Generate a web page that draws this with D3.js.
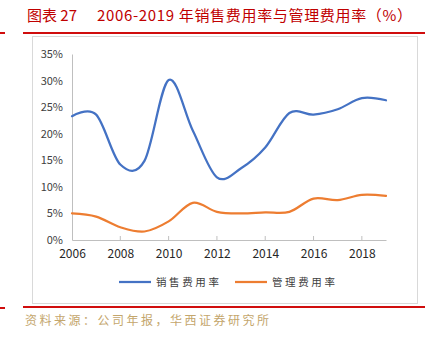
<!DOCTYPE html>
<html>
<head>
<meta charset="utf-8">
<script src="https://cdn.jsdelivr.net/npm/d3@7"></script>
<style>
  html, body { margin: 0; padding: 0; background: #fff; }
  svg { display: block; }
  text { font-family: "Noto Sans CJK SC", "DejaVu Sans", sans-serif; }
</style>
</head>
<body>
<div id="chart"></div>
<script>
//Chart data
var years = [2006, 2007, 2008, 2009, 2010, 2011, 2012, 2013, 2014, 2015, 2016, 2017, 2018, 2019];
var salesRate = [23.3, 23.6, 14.2, 14.9, 30.1, 20.6, 11.8, 13.5, 17.4, 23.9, 23.6, 24.6, 26.7, 26.3];
var adminRate = [5.0, 4.4, 2.4, 1.6, 3.5, 7.0, 5.3, 5.0, 5.2, 5.3, 7.8, 7.5, 8.5, 8.3];
var xTickYears = [2006, 2008, 2010, 2012, 2014, 2016, 2018];
var yTicks = [0, 5, 10, 15, 20, 25, 30, 35];
var seriesNames = ['销售费用率', '管理费用率'];
var seriesColors = ['#4472C4', '#ED7D31'];

var width = 433;
var height = 339;

var svg = d3.select('#chart').append('svg')
  .attr('width', width)
  .attr('height', height);

//Header and footer rules
var red = '#d00d0d';
svg.append('rect').attr('x', 0).attr('y', 32).attr('width', 5).attr('height', 2).attr('fill', red);
svg.append('rect').attr('x', 23).attr('y', 32).attr('width', 402).attr('height', 2).attr('fill', red);
svg.append('rect').attr('x', 0).attr('y', 307).attr('width', 5).attr('height', 2).attr('fill', red);
svg.append('rect').attr('x', 23).attr('y', 306).attr('width', 402).attr('height', 2).attr('fill', red);

//Gray chart frame
svg.append('rect')
  .attr('x', 32.5).attr('y', 36.5)
  .attr('width', 385).attr('height', 267)
  .attr('fill', 'none')
  .attr('stroke', '#d9d9d9');

//Title (two parts, the second stretched to the reference width)
var title = svg.append('text')
  .attr('y', 21)
  .attr('fill', '#c00000')
  .attr('font-size', 15);
title.append('tspan')
  .attr('x', 27)
  .text('图表 27');
svg.append('text')
  .attr('x', 97)
  .attr('y', 21)
  .attr('fill', '#c00000')
  .attr('font-size', 15)
  .attr('textLength', 315)
  .attr('lengthAdjust', 'spacing')
  .text('2006-2019 年销售费用率与管理费用率（%）');

//Source
svg.append('text')
  .attr('x', 25)
  .attr('y', 325)
  .attr('fill', '#c4a66c')
  .attr('font-size', 12)
  .attr('letter-spacing', 2.5)
  .text('资料来源：公司年报，华西证券研究所');

//Scales
var x = d3.scaleLinear().domain([2006, 2019]).range([72, 386]);
var y = d3.scaleLinear().domain([0, 35]).range([240, 54]);

//Y axis
var yAxis = svg.append('g')
  .attr('transform', 'translate(72,0)')
  .call(d3.axisLeft(y).tickValues(yTicks).tickSize(0).tickPadding(9)
    .tickFormat(function(d) { return d + '%'; }));
yAxis.select('.domain').attr('stroke', '#bfbfbf');
yAxis.selectAll('text')
  .attr('font-family', 'Liberation Sans, Arial, sans-serif')
  .attr('font-size', 11)
  .attr('fill', '#404040');

//X axis
var xAxis = svg.append('g')
  .attr('transform', 'translate(0,240)')
  .call(d3.axisBottom(x).tickValues(xTickYears).tickSize(0).tickPadding(9)
    .tickFormat(function(d) { return d; }));
xAxis.select('.domain').attr('stroke', '#bfbfbf');
xAxis.selectAll('text')
  .attr('font-family', 'Liberation Sans, Arial, sans-serif')
  .attr('font-size', 12)
  .attr('fill', '#262626');

//Small inner tick marks on the x axis
svg.append('g').selectAll('line')
  .data(xTickYears.slice(1))
  .enter().append('line')
  .attr('x1', function(d) { return x(d); })
  .attr('x2', function(d) { return x(d); })
  .attr('y1', 236)
  .attr('y2', 240)
  .attr('stroke', '#bfbfbf');

//Lines
var line = d3.line()
  .x(function(d, i) { return x(years[i]); })
  .y(function(d) { return y(d); })
  .curve(d3.curveCatmullRom.alpha(0));

[salesRate, adminRate].forEach(function(series, i) {
  svg.append('path')
    .datum(series)
    .attr('d', line)
    .attr('fill', 'none')
    .attr('stroke', seriesColors[i])
    .attr('stroke-width', 2.25)
    .attr('stroke-linecap', 'round');
});

//Legend
var legendX = [119, 235];
seriesNames.forEach(function(name, i) {
  var g = svg.append('g').attr('transform', 'translate(' + legendX[i] + ',282)');
  g.append('line')
    .attr('x1', 0).attr('x2', 32)
    .attr('stroke', seriesColors[i])
    .attr('stroke-width', 2.25);
  g.append('text')
    .attr('x', 37)
    .attr('y', 4)
    .attr('font-size', 10.5)
    .attr('letter-spacing', 2.6)
    .attr('fill', '#404040')
    .text(name);
});
</script>
</body>
</html>
